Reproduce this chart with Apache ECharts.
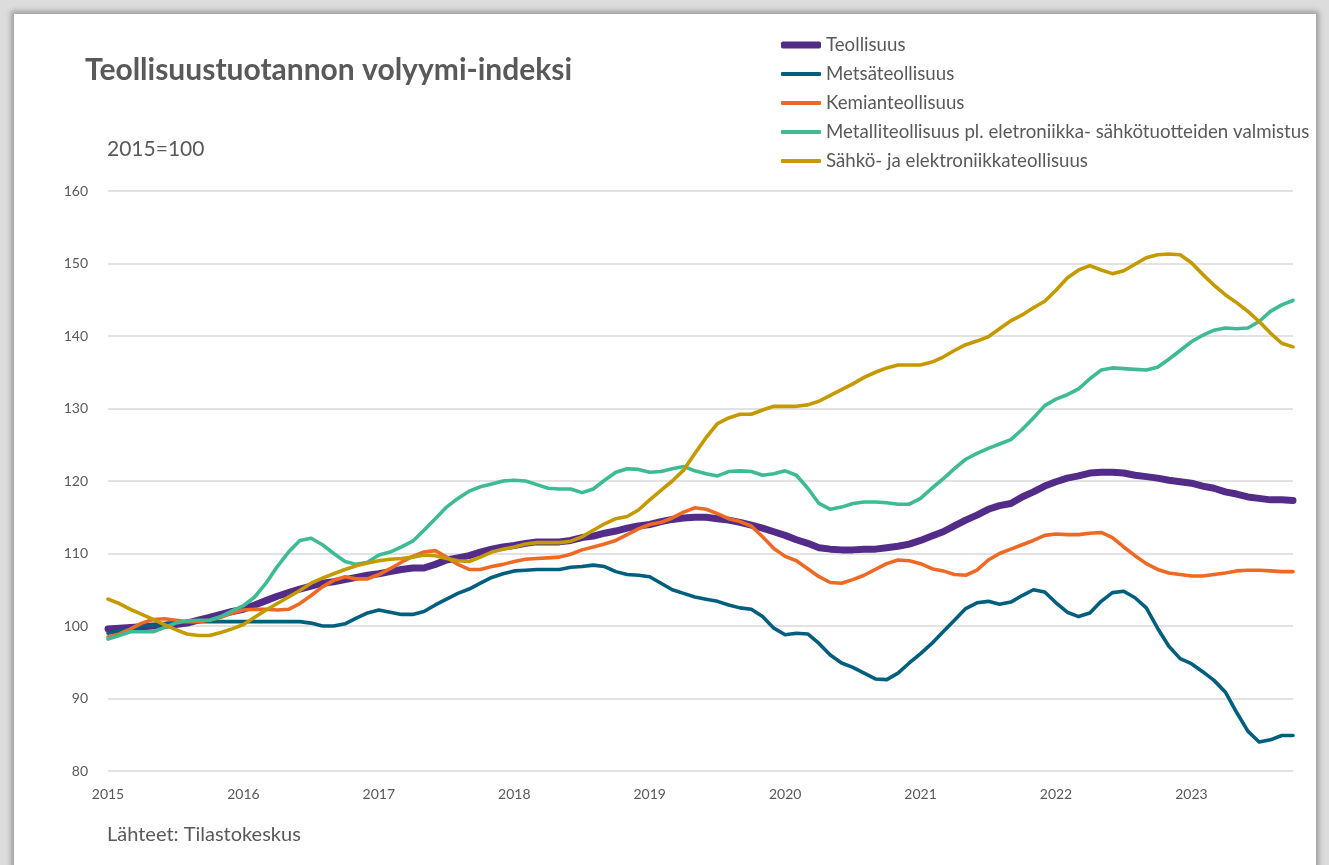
<!DOCTYPE html>
<html>
<head>
<meta charset="utf-8">
<script src="https://cdn.jsdelivr.net/npm/echarts@6/dist/echarts.min.js"></script>
<style>
  html, body { margin: 0; padding: 0; width: 1329px; height: 865px; overflow: hidden; background: #dcdcdc; }
  #frame { position: absolute; left: 14px; top: 14px; width: 1302px; height: 880px; background: #ffffff;
           box-shadow: 0 0 5px 3px rgba(0,0,0,0.28); }
  #chart { position: absolute; left: 0; top: 0; width: 1329px; height: 865px; }
</style>
</head>
<body>
<div id="frame"></div>
<div id="chart"></div>
<script>
// ---- Data (monthly, Jan 2015 – Oct 2023), index 2015=100 ----
const startYear = 2015;
const monthCount = 106;

const teollisuus = [
  99.6, 99.7, 99.8, 99.9, 100.0, 100.1, 100.2, 100.4, 100.8, 101.2, 101.6, 102.0,
  102.3, 102.9, 103.5, 104.1, 104.6, 105.1, 105.5, 105.9, 106.1, 106.4, 106.7, 107.0,
  107.2, 107.5, 107.8, 108.0, 108.0, 108.5, 109.1, 109.4, 109.7, 110.2, 110.6, 110.9,
  111.1, 111.4, 111.6, 111.6, 111.6, 111.8, 112.2, 112.4, 112.8, 113.1, 113.5, 113.8,
  114.0, 114.4, 114.7, 114.9, 115.0, 115.0, 114.8, 114.6, 114.3, 113.9, 113.5, 113.0,
  112.5, 111.9, 111.4, 110.8, 110.6, 110.5, 110.5, 110.6, 110.6, 110.8, 111.0, 111.3,
  111.8, 112.4, 113.0, 113.8, 114.6, 115.3, 116.1, 116.6, 116.9, 117.8, 118.5, 119.3,
  119.9, 120.4, 120.7, 121.1, 121.2, 121.2, 121.1, 120.8, 120.6, 120.4, 120.1, 119.9,
  119.7, 119.3, 119.0, 118.5, 118.2, 117.8, 117.6, 117.4, 117.4, 117.3
];

const metsateollisuus = [
  99.0, 99.3, 99.6, 99.9, 100.1, 100.3, 100.5, 100.6, 100.6, 100.6, 100.6, 100.6,
  100.6, 100.6, 100.6, 100.6, 100.6, 100.6, 100.4, 100.0, 100.0, 100.3, 101.1, 101.8,
  102.2, 101.9, 101.6, 101.6, 102.0, 102.9, 103.7, 104.5, 105.1, 105.9, 106.7, 107.2,
  107.6, 107.7, 107.8, 107.8, 107.8, 108.1, 108.2, 108.4, 108.2, 107.5, 107.1, 107.0,
  106.8, 105.9, 105.0, 104.5, 104.0, 103.7, 103.4, 102.9, 102.5, 102.3, 101.3, 99.7,
  98.8, 99.0, 98.9, 97.6, 96.0, 94.9, 94.3, 93.5, 92.7, 92.6, 93.5, 94.9,
  96.2, 97.6, 99.2, 100.8, 102.4, 103.2, 103.4, 103.0, 103.3, 104.2, 105.0, 104.7,
  103.2, 101.9, 101.3, 101.8, 103.4, 104.6, 104.8, 103.9, 102.5, 99.7, 97.2, 95.5,
  94.8, 93.7, 92.5, 90.9, 88.1, 85.5, 84.0, 84.3, 84.9, 84.9
];

const kemianteollisuus = [
  98.5, 98.9, 99.6, 100.4, 100.9, 101.0, 100.8, 100.6, 100.6, 100.8, 101.2, 101.8,
  102.2, 102.3, 102.3, 102.2, 102.3, 103.1, 104.2, 105.4, 106.3, 106.8, 106.5, 106.5,
  107.1, 107.9, 108.8, 109.6, 110.2, 110.4, 109.5, 108.5, 107.8, 107.8, 108.2, 108.5,
  108.9, 109.2, 109.3, 109.4, 109.5, 109.9, 110.5, 110.9, 111.3, 111.8, 112.6, 113.4,
  114.0, 114.3, 114.9, 115.7, 116.3, 116.1, 115.5, 114.8, 114.4, 113.8, 112.3, 110.7,
  109.6, 109.0, 107.9, 106.8, 106.0, 105.9, 106.4, 107.0, 107.8, 108.6, 109.1, 109.0,
  108.6, 107.9, 107.6, 107.1, 107.0, 107.7, 109.1, 110.0, 110.6, 111.2, 111.8, 112.5,
  112.7, 112.6, 112.6, 112.8, 112.9, 112.2, 110.9, 109.7, 108.6, 107.8, 107.3, 107.1,
  106.9, 106.9, 107.1, 107.3, 107.6, 107.7, 107.7, 107.6, 107.5, 107.5
];

const metalliteollisuus = [
  98.2, 98.7, 99.2, 99.2, 99.2, 99.8, 100.4, 100.7, 100.8, 100.8, 101.3, 102.1,
  102.8, 104.0, 105.9, 108.2, 110.2, 111.8, 112.1, 111.2, 110.0, 108.9, 108.5, 108.8,
  109.8, 110.2, 110.9, 111.7, 113.2, 114.8, 116.4, 117.6, 118.6, 119.2, 119.6, 120.0,
  120.1, 120.0, 119.5, 119.0, 118.9, 118.9, 118.4, 118.9, 120.1, 121.2, 121.7, 121.6,
  121.2, 121.3, 121.7, 122.0, 121.4, 121.0, 120.7, 121.3, 121.4, 121.3, 120.8, 121.0,
  121.4, 120.8, 119.0, 116.9, 116.1, 116.4, 116.9, 117.1, 117.1, 117.0, 116.8, 116.8,
  117.6, 119.0, 120.3, 121.7, 123.0, 123.8, 124.5, 125.1, 125.7, 127.1, 128.7, 130.4,
  131.3, 131.9, 132.7, 134.1, 135.3, 135.6, 135.5, 135.4, 135.3, 135.7, 136.8, 138.0,
  139.2, 140.1, 140.8, 141.1, 141.0, 141.1, 142.0, 143.4, 144.3, 144.9
];

const sahkoteollisuus = [
  103.7, 103.1, 102.3, 101.6, 100.9, 100.2, 99.5, 98.9, 98.7, 98.7, 99.1, 99.6,
  100.2, 101.2, 102.2, 103.1, 104.0, 104.9, 105.9, 106.6, 107.2, 107.8, 108.3, 108.7,
  109.0, 109.2, 109.3, 109.5, 109.8, 109.7, 109.3, 109.0, 108.9, 109.5, 110.2, 110.6,
  110.9, 111.3, 111.5, 111.5, 111.5, 111.7, 112.3, 113.2, 114.1, 114.8, 115.1, 116.0,
  117.4, 118.7, 120.0, 121.5, 123.8, 126.0, 127.9, 128.7, 129.2, 129.2, 129.8, 130.3,
  130.3, 130.3, 130.5, 131.0, 131.8, 132.6, 133.4, 134.3, 135.0, 135.6, 136.0, 136.0,
  136.0, 136.4, 137.1, 138.0, 138.8, 139.3, 139.9, 141.0, 142.1, 142.9, 143.9, 144.8,
  146.3, 148.0, 149.1, 149.7, 149.1, 148.6, 149.0, 149.9, 150.8, 151.2, 151.3, 151.2,
  150.1, 148.5, 147.0, 145.7, 144.6, 143.4, 142.0, 140.4, 139.0, 138.5
];

const seriesNames = [
  'Teollisuus',
  'Metsäteollisuus',
  'Kemianteollisuus',
  'Metalliteollisuus pl. eletroniikka- sähkötuotteiden valmistus',
  'Sähkö- ja elektroniikkateollisuus'
];
const seriesColors = ['#532C8A', '#005F7F', '#EE6A24', '#3CBB95', '#C49A00'];
const seriesWidths = [7, 3.6, 3.6, 3.6, 3.6];
const seriesData = [teollisuus, metsateollisuus, kemianteollisuus, metalliteollisuus, sahkoteollisuus];

const yTicks = [80, 90, 100, 110, 120, 130, 140, 150, 160];

// Month categories
const categories = [];
for (let i = 0; i < monthCount; i++) {
  const y = startYear + Math.floor(i / 12);
  const m = (i % 12) + 1;
  categories.push(y + '-' + (m < 10 ? '0' + m : m));
}

const FONT = 'Lato, "Open Sans", sans-serif';
const TXT = '#595959';

const chart = echarts.init(document.getElementById('chart'), null, { renderer: 'canvas' });

const series = seriesNames.map((name, k) => ({
  name: name,
  type: 'line',
  data: seriesData[k],
  showSymbol: false,
  symbol: 'none',
  smooth: false,
  lineStyle: { color: seriesColors[k], width: seriesWidths[k], cap: 'round', join: 'round' },
  itemStyle: { color: seriesColors[k] },
  emphasis: { disabled: true },
  z: 2 + k
}));

const legendText = { fontSize: 18.7, color: TXT, lineHeight: 20, fontFamily: FONT };

chart.setOption({
  animation: false,
  backgroundColor: 'transparent',
  textStyle: { fontFamily: FONT },
  title: [
    { text: 'Teollisuustuotannon volyymi-indeksi', left: 85, top: 55, padding: 0,
      textStyle: { fontSize: 30, fontWeight: 'bold', color: TXT, fontFamily: FONT } },
    { text: '2015=100', left: 107, top: 139, padding: 0,
      textStyle: { fontSize: 21, fontWeight: 'normal', color: TXT, fontFamily: FONT } },
    { text: 'Lähteet: Tilastokeskus', left: 107, top: 825, padding: 0,
      textStyle: { fontSize: 20, fontWeight: 'normal', color: TXT, fontFamily: FONT } }
  ],
  legend: [
    {
      data: [{ name: seriesNames[0], icon: 'roundRect' }],
      orient: 'vertical', left: 781, top: 35, padding: 0,
      itemWidth: 40, itemHeight: 7, itemGap: 9,
      textStyle: legendText,
      selectedMode: false
    },
    {
      data: seriesNames.slice(1).map(n => ({ name: n, icon: 'roundRect' })),
      orient: 'vertical', left: 781, top: 64, padding: 0,
      itemWidth: 40, itemHeight: 4, itemGap: 9,
      textStyle: legendText,
      selectedMode: false
    }
  ],
  grid: { left: 108, right: 36, top: 191, bottom: 94, containLabel: false },
  xAxis: {
    type: 'category',
    data: categories,
    boundaryGap: false,
    axisLine: { show: false },
    axisTick: { show: false },
    axisLabel: {
      interval: (idx) => idx % 12 === 0,
      formatter: (v) => v.slice(0, 4),
      color: TXT, fontSize: 14, margin: 16, fontFamily: FONT
    },
    splitLine: { show: false }
  },
  yAxis: {
    type: 'value',
    min: yTicks[0], max: yTicks[yTicks.length - 1], interval: 10,
    axisLine: { show: false },
    axisTick: { show: false },
    axisLabel: { color: TXT, fontSize: 14, margin: 20, fontFamily: FONT },
    splitLine: { show: true, lineStyle: { color: '#d9d9d9', width: 1.5 } }
  },
  series: series
});
</script>
</body>
</html>
